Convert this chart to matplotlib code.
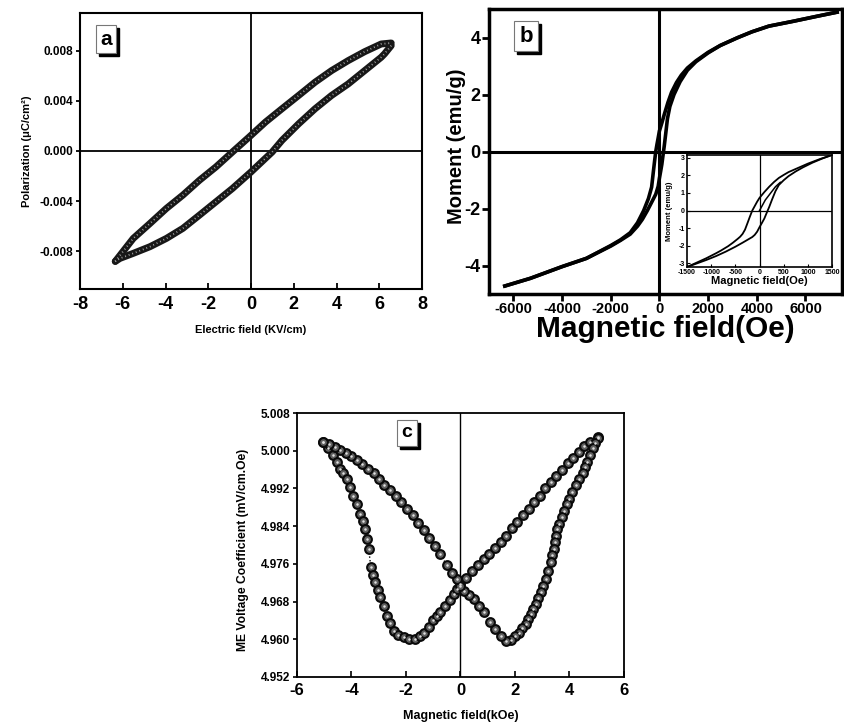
import numpy as np
import matplotlib
matplotlib.use("Agg")
import matplotlib.pyplot as plt
from matplotlib.transforms import offset_copy

plt.rcParams['font.family'] = ['Liberation Sans', 'DejaVu Sans']
plt.rcParams['font.weight'] = 'bold'
plt.rcParams['axes.unicode_minus'] = False

# ---- panel a : P-E loop ----
a_up_x = [-6.35, -5.51, -4.73, -3.96, -3.19, -2.41, -1.64, -0.87, -0.09, 0.68, 1.45,
          2.23, 3.00, 3.77, 4.55, 5.32, 6.09, 6.56]
a_up_y = [-0.0088, -0.00697, -0.00578, -0.00458, -0.00352, -0.00233, -0.00127, -0.00008,
          0.00111, 0.00231, 0.00337, 0.00443, 0.00549, 0.00641, 0.00721, 0.00792, 0.00853, 0.00861]
a_dn_x = [6.56, 6.25, 6.09, 5.32, 4.55, 3.77, 3.00, 2.23, 1.45, 0.99, 0.0, -0.87, -1.64,
          -2.41, -3.19, -3.96, -4.73, -5.51, -6.13, -6.35]
a_dn_y = [0.0084, 0.00775, 0.00747, 0.00641, 0.00535, 0.00443, 0.00337, 0.00217, 0.00085,
          -0.00008, -0.00167, -0.00299, -0.00405, -0.00511, -0.00617, -0.00697, -0.00763,
          -0.00816, -0.00856, -0.0088]

# ---- panel b : M-H loop ----
b_dn_x = [7300, 6500, 5500, 4500, 3800, 3200, 2500, 2000, 1500, 1150, 900, 700, 500, 350,
          200, 100, 0, -50, -100, -150, -200, -250, -320, -450, -650, -900, -1200, -1600,
          -2000, -3000, -4000, -5300, -6350]
b_dn_y = [4.89, 4.75, 4.57, 4.40, 4.20, 3.99, 3.72, 3.48, 3.18, 2.93, 2.68, 2.42, 2.08, 1.72,
          1.30, 1.00, 0.72, 0.48, 0.25, 0.0, -0.35, -0.72, -1.25, -1.65, -2.08, -2.50, -2.85,
          -3.10, -3.30, -3.75, -4.04, -4.45, -4.72]
b_up_x = [-6350, -5300, -4000, -3000, -2000, -1600, -1200, -900, -700, -500, -300, -150, -50,
          0, 50, 100, 150, 200, 260, 330, 430, 600, 850, 1150, 1500, 2000, 2500, 3200, 3800,
          4500, 5500, 6500, 7300]
b_up_y = [-4.72, -4.45, -4.04, -3.75, -3.32, -3.12, -2.90, -2.62, -2.38, -2.08, -1.75, -1.50,
          -1.22, -0.94, -0.70, -0.45, -0.12, 0.20, 0.63, 1.15, 1.58, 2.00, 2.45, 2.85, 3.15,
          3.46, 3.72, 3.99, 4.20, 4.40, 4.57, 4.75, 4.89]

# inset of panel b
ins_dn_x = [1500, 1250, 1000, 750, 600, 500, 400, 300, 200, 100, 0, -50, -100, -150, -200,
            -250, -300, -350, -400, -450, -550, -650, -800, -900, -1100, -1300, -1500]
ins_dn_y = [3.15, 2.92, 2.66, 2.36, 2.18, 2.02, 1.85, 1.62, 1.35, 1.05, 0.72, 0.5, 0.25, 0.0,
            -0.35, -0.72, -1.08, -1.32, -1.48, -1.6, -1.82, -2.02, -2.27, -2.42, -2.7, -2.95,
            -3.2]
ins_up_x = [-1500, -1300, -1100, -900, -700, -500, -350, -250, -150, -100, -50, 0, 50, 100,
            150, 200, 260, 330, 400, 500, 600, 750, 900, 1100, 1300, 1500]
ins_up_y = [-3.2, -3.0, -2.8, -2.58, -2.33, -2.05, -1.82, -1.66, -1.5, -1.38, -1.2, -0.94,
            -0.7, -0.45, -0.12, 0.2, 0.63, 1.1, 1.45, 1.72, 1.95, 2.22, 2.45, 2.72, 2.95, 3.15]
ins_v_x = [0, 60, 120, 190, 260, 330, 430]
ins_v_y = [0, 0.3, 0.6, 0.85, 1.1, 1.35, 1.6]

# ---- panel c : ME coefficient ----
c_up_x = [-5.03, -4.85, -4.69, -4.55, -4.42, -4.30, -4.17, -4.05, -3.93, -3.80, -3.68, -3.59,
          -3.50, -3.43, -3.37, -3.29, -3.21, -3.13, -3.03, -2.94, -2.82, -2.70, -2.58, -2.45,
          -2.28, -2.09, -1.88, -1.66, -1.50, -1.35, -1.17, -1.00, -0.86, -0.74, -0.57, -0.40,
          -0.25, -0.12, 0.0, 0.20, 0.43, 0.64, 0.86, 1.05, 1.26, 1.47, 1.68, 1.88, 2.09, 2.30,
          2.50, 2.70, 2.90, 3.10, 3.31, 3.52, 3.72, 3.93, 4.13, 4.34, 4.54, 4.75, 5.03]
c_up_y = [5.0019, 5.0005, 4.9991, 4.9977, 4.9962, 4.9952, 4.9941, 4.9923, 4.9905, 4.9886,
          4.9866, 4.9850, 4.9834, 4.9812, 4.9792, 4.9753, 4.9737, 4.9721, 4.9705, 4.9689,
          4.9670, 4.9650, 4.9634, 4.9618, 4.9610, 4.9604, 4.9601, 4.9601, 4.9607, 4.9614,
          4.9626, 4.9640, 4.9649, 4.9657, 4.9670, 4.9684, 4.9697, 4.9707, 4.9717, 4.9729,
          4.9744, 4.9757, 4.9770, 4.9780, 4.9793, 4.9806, 4.9820, 4.9835, 4.9849, 4.9863,
          4.9877, 4.9891, 4.9905, 4.9920, 4.9934, 4.9947, 4.9960, 4.9973, 4.9985, 4.9997,
          5.0009, 5.0018, 5.0030]
c_dn_x = [5.03, 4.94, 4.85, 4.75, 4.66, 4.57, 4.48, 4.36, 4.23, 4.11, 3.99, 3.90, 3.80, 3.71,
          3.62, 3.56, 3.50, 3.46, 3.43, 3.37, 3.31, 3.22, 3.13, 3.03, 2.94, 2.85, 2.76, 2.67,
          2.58, 2.48, 2.39, 2.27, 2.15, 2.00, 1.84, 1.66, 1.47, 1.28, 1.10, 0.86, 0.68, 0.49,
          0.30, 0.12, 0.0, -0.12, -0.30, -0.50, -0.74, -0.95, -1.15, -1.35, -1.55, -1.76,
          -1.96, -2.17, -2.38, -2.58, -2.79, -3.00, -3.19, -3.40, -3.60, -3.80, -4.00, -4.21,
          -4.42, -4.62, -4.82, -5.03]
c_dn_y = [5.0026, 5.0016, 5.0005, 4.9991, 4.9977, 4.9965, 4.9952, 4.9940, 4.9927, 4.9913,
          4.9898, 4.9886, 4.9873, 4.9859, 4.9845, 4.9833, 4.9820, 4.9806, 4.9792, 4.9778,
          4.9763, 4.9745, 4.9728, 4.9714, 4.9700, 4.9688, 4.9675, 4.9664, 4.9653, 4.9642,
          4.9632, 4.9623, 4.9614, 4.9606, 4.9599, 4.9596, 4.9607, 4.9622, 4.9636, 4.9657,
          4.9671, 4.9685, 4.9694, 4.9703, 4.9714, 4.9727, 4.9740, 4.9757, 4.9780, 4.9798,
          4.9815, 4.9831, 4.9847, 4.9863, 4.9877, 4.9891, 4.9904, 4.9916, 4.9928, 4.9941,
          4.9952, 4.9962, 4.9972, 4.9980, 4.9988, 4.9995, 5.0001, 5.0008, 5.0014, 5.0019]

fig = plt.figure(figsize=(8.44, 7.27), dpi=100)


def panel_tag(ax, x, y, s, fs):
    sh = offset_copy(ax.transAxes, fig=fig, x=3, y=-3, units='dots')
    ax.text(x, y, s, transform=sh, fontsize=fs, fontweight='bold', ha='center', va='center',
            color='black', zorder=5,
            bbox=dict(boxstyle='square,pad=0.22', fc='black', ec='black'))
    ax.text(x, y, s, transform=ax.transAxes, fontsize=fs, fontweight='bold', ha='center',
            va='center', zorder=6,
            bbox=dict(boxstyle='square,pad=0.22', fc='white', ec='#777777', lw=0.8))


def frame(ax, lw):
    for sp in ax.spines.values():
        sp.set_linewidth(lw)


# ===== a =====
ax1 = fig.add_axes([0.0948, 0.6025, 0.4052, 0.3796])
for xs, ys in [(a_up_x, a_up_y), (a_dn_x, a_dn_y)]:
    ax1.plot(xs, ys, color='#181818', lw=5.0, solid_capstyle='round', zorder=3)
    ax1.plot(xs, ys, color='#a8a8a8', lw=1.3, ls=(0, (0.5, 1.6)), zorder=4)
ax1.axhline(0, color='k', lw=1.3, zorder=1)
ax1.axvline(0, color='k', lw=1.3, zorder=1)
ax1.set_xlim(-8, 8)
ax1.set_ylim(-0.011, 0.011)
ax1.set_xticks(np.arange(-8, 9, 2))
ax1.set_yticks([-0.008, -0.004, 0.0, 0.004, 0.008])
ax1.set_yticklabels(['%.3f' % v for v in [-0.008, -0.004, 0.0, 0.004, 0.008]])
ax1.tick_params(axis='x', direction='in', length=4, width=1.3, labelsize=13, pad=5)
ax1.tick_params(axis='y', direction='out', length=3, width=1.3, labelsize=8.5, pad=2)
frame(ax1, 1.5)
ax1.set_xlabel('Electric field (KV/cm)', fontsize=8, fontweight='bold')
ax1.set_ylabel('Polarization (\u03bcC/cm\u00b2)', fontsize=8, fontweight='bold')
ax1.xaxis.set_label_coords(0.5, -0.13)
ax1.yaxis.set_label_coords(-0.14, 0.5)
panel_tag(ax1, 0.076, 0.905, 'a', 15)

# ===== b =====
ax2 = fig.add_axes([0.5794, 0.5956, 0.4182, 0.3920])
ax2.plot(b_dn_x, b_dn_y, color='k', lw=2.6, zorder=3)
ax2.plot(b_up_x, b_up_y, color='k', lw=2.6, zorder=3)
ax2.axhline(0, color='k', lw=2.2, zorder=1)
ax2.axvline(0, color='k', lw=2.2, zorder=1)
ax2.set_xlim(-7000, 7500)
ax2.set_ylim(-5, 5)
ax2.set_xticks(np.arange(-6000, 6001, 2000))
ax2.set_yticks([-4, -2, 0, 2, 4])
ax2.tick_params(axis='x', direction='out', length=5, width=2, labelsize=10.5, pad=1)
ax2.tick_params(axis='y', direction='out', length=5, width=2, labelsize=13, pad=1)
frame(ax2, 2.5)
ax2.set_xlabel('Magnetic field(Oe)', fontsize=21.5, fontweight='bold')
ax2.set_ylabel('Moment (emu/g)', fontsize=14.5, fontweight='bold')
ax2.xaxis.set_label_coords(0.5, -0.075)
ax2.yaxis.set_label_coords(-0.065, 0.52)
panel_tag(ax2, 0.105, 0.905, 'b', 16)

# inset
ax3 = fig.add_axes([0.8140, 0.6327, 0.1718, 0.1541])
ax3.plot(ins_dn_x, ins_dn_y, color='k', lw=1.3)
ax3.plot(ins_up_x, ins_up_y, color='k', lw=1.3)
ax3.plot(ins_v_x, ins_v_y, color='k', lw=1.1)
ax3.axhline(0, color='k', lw=0.9, zorder=1)
ax3.axvline(0, color='k', lw=0.9, zorder=1)
ax3.set_xlim(-1500, 1500)
ax3.set_ylim(-3.2, 3.15)
ax3.set_xticks(np.arange(-1500, 1501, 500))
ax3.set_yticks(np.arange(-3, 4, 1))
ax3.tick_params(axis='both', direction='in', length=2, width=0.8, labelsize=5, pad=1.5)
frame(ax3, 1.2)
ax3.set_xlabel('Magnetic field(Oe)', fontsize=8, fontweight='bold')
ax3.set_ylabel('Moment (emu/g)', fontsize=5.5, fontweight='bold')
ax3.xaxis.set_label_coords(0.5, -0.08)
ax3.yaxis.set_label_coords(-0.1, 0.5)

# ===== c =====
ax4 = fig.add_axes([0.3519, 0.0688, 0.3874, 0.3631])
for xs, ys in [(c_up_x, c_up_y), (c_dn_x, c_dn_y)]:
    ax4.plot(xs, ys, color='k', lw=1.0, ls=':', zorder=2)
    ax4.plot(xs, ys, ls='none', marker='o', ms=6.3, mfc='#606060', mec='#0a0a0a', mew=1.5,
             zorder=3)
    ax4.plot(xs, ys, ls='none', marker='o', ms=1.8, mfc='#e0e0e0', mec='none', zorder=4)
ax4.axvline(0, color='k', lw=1.0, zorder=1)
ax4.set_xlim(-6, 6)
ax4.set_ylim(4.952, 5.008)
ax4.set_xticks(np.arange(-6, 7, 2))
c_yt = [4.952, 4.960, 4.968, 4.976, 4.984, 4.992, 5.000, 5.008]
ax4.set_yticks(c_yt)
ax4.set_yticklabels(['%.3f' % v for v in c_yt])
ax4.tick_params(axis='x', direction='in', length=4, width=1.2, labelsize=12, pad=4)
ax4.tick_params(axis='y', direction='out', length=3, width=1.2, labelsize=8.5, pad=2)
frame(ax4, 1.3)
ax4.set_xlabel('Magnetic field(kOe)', fontsize=9, fontweight='bold')
ax4.set_ylabel('ME Voltage Coefficient (mV/cm.Oe)', fontsize=8.7, fontweight='bold')
ax4.xaxis.set_label_coords(0.5, -0.125)
ax4.yaxis.set_label_coords(-0.147, 0.48)
panel_tag(ax4, 0.336, 0.925, 'c', 14)

fig.savefig('out.png', dpi=100)
